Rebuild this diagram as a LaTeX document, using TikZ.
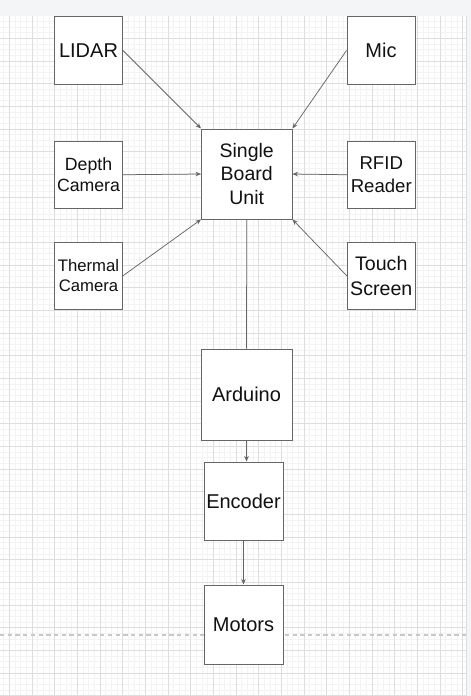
\documentclass[tikz,border=0pt]{standalone}
\usepackage{fontspec}
\setmainfont{Liberation Sans}
\usetikzlibrary{arrows.meta}
\definecolor{boxc}{HTML}{666666}
\definecolor{linec}{HTML}{666666}
\definecolor{minorg}{HTML}{F3F3F3}
\definecolor{majorg}{HTML}{DEDEDE}
\definecolor{barc}{HTML}{F4F5F6}
\definecolor{dashc}{HTML}{C8C8C8}
\definecolor{txt}{HTML}{111111}
\tikzset{
  blk/.style={draw=boxc, fill=white, line width=1pt, inner sep=0pt, align=center,
    text=txt, font=\fontsize{20}{24}\selectfont},
  conn/.style={draw=linec, line width=0.75pt, -{Stealth[length=5.5pt,width=4.5pt]}},
  plain/.style={draw=linec, line width=0.75pt},
}
\begin{document}
\begin{tikzpicture}[x=1pt,y=-1pt]
\useasboundingbox (0,0) rectangle (471,696);
\fill[white] (0,0) rectangle (471,696);
% grid
\begin{scope}
\clip (0,16) rectangle (466,696);
\foreach \k in {-1,...,81} {\draw[minorg, line width=0.5pt] ({9.3+5.667*\k},0) -- ({9.3+5.667*\k},696);}
\foreach \k in {-3,...,120} {\draw[minorg, line width=0.5pt] (0,{15.5+5.667*\k}) -- (471,{15.5+5.667*\k});}
\foreach \k in {-1,...,21} {\draw[majorg, line width=0.6pt] ({9.3+22.667*\k},0) -- ({9.3+22.667*\k},696);}
\foreach \k in {-1,...,30} {\draw[majorg, line width=0.6pt] (0,{15.5+22.667*\k}) -- (471,{15.5+22.667*\k});}
\end{scope}
% top bar and right strip
\fill[barc] (0,0) rectangle (471,16);
\fill[barc] (466,16) rectangle (471,696);
\draw[majorg, line width=0.6pt] (466,16) -- (466,696);
% dashed line
\draw[dashc, line width=1.2pt, dash pattern=on 4.3pt off 3.4pt] (0,635) -- (466,635);
% nodes
\node[blk, minimum width=68pt, minimum height=68pt] (lidar) at (88.5,50.5) {LIDAR};
\node[blk, minimum width=68pt, minimum height=68pt] (mic) at (381,50.5) {Mic};
\node[blk, minimum width=68pt, minimum height=67.5pt, font=\fontsize{17.7}{21.5}\selectfont] (depth) at (88.5,174.75) {Depth\\Camera};
\node[blk, minimum width=68pt, minimum height=67.5pt, font=\fontsize{16.7}{20}\selectfont] (thermal) at (88.5,275.75) {Thermal\\Camera};
\node[blk, minimum width=68pt, minimum height=67.5pt, font=\fontsize{18.6}{22.5}\selectfont] (rfid) at (381.25,174.75) {RFID\\Reader};
\node[blk, minimum width=68pt, minimum height=67.5pt, font=\fontsize{19.6}{24.5}\selectfont] (touch) at (381.25,275.75) {Touch\\Screen};
\node[blk, minimum width=90.5pt, minimum height=90pt, font=\fontsize{19.5}{23.4}\selectfont] (sbu) at (246.75,174) {Single\\Board\\Unit};
\node[blk, minimum width=91pt, minimum height=91pt] (ard) at (246.5,394.5) {Arduino};
\node[blk, minimum width=79pt, minimum height=78pt] (enc) at (243.5,501) {Encoder};
\node[blk, minimum width=79pt, minimum height=79pt] (mot) at (243.5,624.5) {Motors};
% connectors
\draw[conn] (lidar.east) -- (sbu.north west);
\draw[conn] (mic.west) -- (sbu.north east);
\draw[conn] (depth.east) -- (sbu.west);
\draw[conn] (rfid.west) -- (sbu.east);
\draw[conn] (thermal.east) -- (sbu.south west);
\draw[conn] (touch.west) -- (sbu.south east);
\draw[plain] (sbu.south) -- (ard.north);
\draw[conn] (ard.south) -- (ard.south |- enc.north);
\draw[conn] (enc.south) -- (mot.north);
\end{tikzpicture}
\end{document}
